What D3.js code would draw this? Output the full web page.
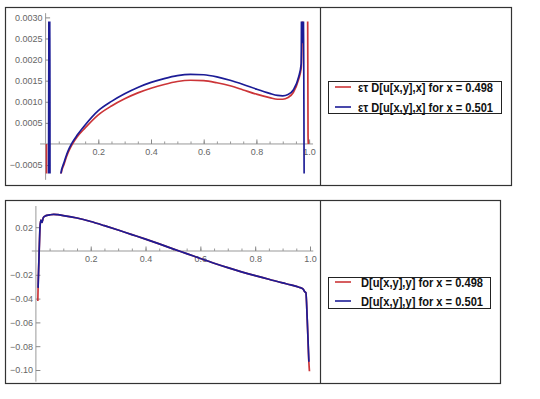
<!DOCTYPE html>
<html><head><meta charset="utf-8">
<script src="https://cdn.jsdelivr.net/npm/d3@7"></script>
<style>body{margin:0;background:#fff}svg{display:block}text{font-family:"Liberation Sans",Arial,sans-serif}</style>
</head><body><svg id="c" width="540" height="399"></svg>
<script>
// ---------- DATA ----------
// Top panel: eps*tau D[u[x,y],x]
const topX1 = [0.0035,0.004,0.011,0.012,0.013,0.014,0.015,0.016,0.017,0.05,0.058,0.07,0.08,0.09,0.1,0.12,0.15,0.2,0.25,0.3,0.35,0.4,0.45,0.5,0.55,0.6,0.65,0.7,0.75,0.8,0.85,0.88,0.9,0.92,0.94,0.96,0.97,0.98,0.994,0.996,0.997];
const topRed = [0.0,-0.003,-0.003,-0.003,-0.003,-0.003,-0.003,-0.003,-0.003,-0.003,-0.00073,-0.00048,-0.00029,-0.00014,-0.00002,0.00017,0.00038,0.00069,0.0009,0.00107,0.00121,0.00132,0.00141,0.00148,0.00151,0.0015,0.00145,0.00138,0.00128,0.00118,0.0011,0.00106,0.00106,0.0011,0.00122,0.00153,0.0018,0.004,0.004,0.0002,0.0];
const topX2 = [0.011,0.012,0.013,0.014,0.015,0.016,0.017,0.05,0.058,0.07,0.08,0.09,0.1,0.12,0.15,0.2,0.25,0.3,0.35,0.4,0.45,0.5,0.55,0.6,0.65,0.7,0.75,0.8,0.85,0.88,0.9,0.92,0.94,0.96,0.97,0.972,0.975,0.978,0.983,1.0];
const topBlue = [-0.003,0.004,-0.003,0.004,-0.003,0.004,-0.003,-0.003,-0.0007,-0.00044,-0.00025,-0.0001,0.00002,0.00021,0.00045,0.00079,0.00101,0.00119,0.00134,0.00146,0.00155,0.00162,0.00165,0.00164,0.00159,0.00151,0.00141,0.0013,0.0012,0.00115,0.00114,0.00117,0.00128,0.00158,0.0019,0.004,0.0024,0.004,-0.003,-0.003];
const topYTicks = [-0.0005,0.0005,0.001,0.0015,0.002,0.0025,0.003];
const topYLabels = ["\u22120.0005","0.0005","0.0010","0.0015","0.0020","0.0025","0.0030"];
const xTicks = [0.2,0.4,0.6,0.8,1.0];
const xLabels = ["0.2","0.4","0.6","0.8","1.0"];
const topLegend = ["\u03B5\u03C4 D[u[x,y],x] for x = 0.498","\u03B5\u03C4 D[u[x,y],x] for x = 0.501"];

// Bottom panel: D[u[x,y],y]
const botX = [0.007,0.008,0.012,0.015,0.018,0.022,0.027,0.035,0.05,0.065,0.08,0.1,0.15,0.2,0.25,0.3,0.35,0.4,0.45,0.5,0.55,0.6,0.65,0.7,0.75,0.8,0.85,0.9,0.93,0.96,0.975,0.98,0.985,0.99,0.996,0.998];
const botRed = [-0.042,-0.031,0.0,0.02,0.026,0.024,0.028,0.0295,0.0303,0.0308,0.0305,0.0298,0.0277,0.0248,0.0213,0.0176,0.0138,0.0100,0.0060,0.0018,-0.0022,-0.0063,-0.0103,-0.0140,-0.0175,-0.0207,-0.0237,-0.0268,-0.0285,-0.0305,-0.032,-0.034,-0.035,-0.058,-0.094,-0.101];
const botBlue = [null,-0.031,0.0,0.02,0.026,0.024,0.028,0.0295,0.0303,0.0308,0.0305,0.0298,0.0277,0.0248,0.0213,0.0176,0.0138,0.0100,0.0060,0.0018,-0.0022,-0.0063,-0.0103,-0.0140,-0.0175,-0.0207,-0.0237,-0.0268,-0.0285,-0.0305,-0.032,-0.034,-0.035,-0.058,-0.093,null];
const botYTicks = [0.02,-0.02,-0.04,-0.06,-0.08,-0.10];
const botYLabels = ["0.02","\u22120.02","\u22120.04","\u22120.06","\u22120.08","\u22120.10"];
const botLegend = ["D[u[x,y],y] for x = 0.498","D[u[x,y],y] for x = 0.501"];

const RED = "#cc3538", BLUE = "#1c1c96";

// ---------- DRAW ----------
const svg = d3.select("#c");

function panel(o){
  const g = svg.append("g");
  g.append("rect").attr("x",o.frame[0]+0.5).attr("y",o.frame[1]+0.5)
    .attr("width",o.frame[2]-o.frame[0]).attr("height",o.frame[3]-o.frame[1])
    .attr("fill","#fff").attr("stroke","#333").attr("stroke-width",1.2);
  g.append("line").attr("x1",o.div+0.5).attr("x2",o.div+0.5).attr("y1",o.frame[1]).attr("y2",o.frame[3])
    .attr("stroke","#333").attr("stroke-width",1.2);

  const x = d3.scaleLinear().domain([0,1]).range(o.xr);
  const y = d3.scaleLinear().domain(o.yd).range(o.yr);

  g.append("line").attr("x1",x(o.xAxisExt[0])).attr("x2",x(o.xAxisExt[1])).attr("y1",y(0)).attr("y2",y(0))
    .attr("stroke","#999").attr("stroke-width",1);
  g.append("line").attr("x1",x(0)).attr("x2",x(0)).attr("y1",y(o.yAxisExt[0])).attr("y2",y(o.yAxisExt[1]))
    .attr("stroke","#999").attr("stroke-width",1);

  const xMinor = d3.range(0,1.0001,0.05).filter(v=>v>0.001);
  const yMinor = d3.range(o.yAxisExt[1], o.yAxisExt[0], o.yMinorStep).map(v=>+v.toFixed(6));
  g.append("g").attr("transform",`translate(0,${y(0)})`)
    .call(d3.axisBottom(x).tickValues(xMinor).tickSizeInner(-2.5).tickSizeOuter(0).tickFormat(""))
    .call(a=>a.select(".domain").remove()).selectAll("line").attr("stroke","#999");
  g.append("g").attr("transform",`translate(${x(0)},0)`)
    .call(d3.axisLeft(y).tickValues(yMinor.filter(v=>Math.abs(v)>1e-9)).tickSizeInner(-2.5).tickSizeOuter(0).tickFormat(""))
    .call(a=>a.select(".domain").remove()).selectAll("line").attr("stroke","#999");
  const ax = g.append("g").attr("transform",`translate(0,${y(0)})`)
    .call(d3.axisBottom(x).tickValues(xTicks).tickSizeInner(-4.5).tickSizeOuter(0).tickPadding(5)
      .tickFormat((d,i)=>xLabels[i]))
    .call(a=>a.select(".domain").remove());
  ax.selectAll("line").attr("stroke","#888");
  ax.selectAll("text").attr("fill","#666").attr("font-size",9).attr("font-family","Liberation Sans, Arial, sans-serif");
  const ay = g.append("g").attr("transform",`translate(${x(0)},0)`)
    .call(d3.axisLeft(y).tickValues(o.yTicks).tickSizeInner(-4.5).tickSizeOuter(0).tickPadding(3)
      .tickFormat((d,i)=>o.yLabels[i]))
    .call(a=>a.select(".domain").remove());
  ay.selectAll("line").attr("stroke","#888");
  ay.selectAll("text").attr("fill","#666").attr("font-size",9).attr("font-family","Liberation Sans, Arial, sans-serif");

  const cid = "clip"+o.id;
  g.append("clipPath").attr("id",cid).append("rect")
    .attr("x",o.xr[0]-8).attr("width",o.xr[1]-o.xr[0]+16)
    .attr("y",y(o.yd[1])).attr("height",y(o.yd[0])-y(o.yd[1]));
  const line = d3.line().defined(d=>d[1]!=null).curve(d3.curveMonotoneX).x(d=>x(d[0])).y(d=>y(d[1]));
  o.series.forEach(s=>{
    g.append("path").attr("clip-path",`url(#${cid})`)
      .attr("d", line(s.xs.map((v,i)=>[v,s.ys[i]])))
      .attr("fill","none").attr("stroke",s.color).attr("stroke-width",s.w||1.7).attr("stroke-linejoin","round");
  });

  const L = o.legend;
  g.append("rect").attr("x",L.box[0]+0.5).attr("y",L.box[1]+0.5).attr("width",L.box[2]-L.box[0]).attr("height",L.box[3]-L.box[1])
    .attr("fill","#fff").attr("stroke","#222").attr("stroke-width",1);
  L.labels.forEach((t,i)=>{
    const cy = L.ys[i];
    g.append("line").attr("x1",335).attr("x2",351).attr("y1",cy).attr("y2",cy)
      .attr("stroke",[RED,BLUE][i]).attr("stroke-width",1.6);
    g.append("text").attr("x",L.tx).attr("y",cy).attr("dy","0.36em")
      .attr("font-size",12.5).attr("font-weight","bold").attr("fill","#111")
      .attr("font-family","Liberation Sans Narrow, Arial Narrow, Liberation Sans, sans-serif")
      .attr("textLength",L.tw).attr("lengthAdjust","spacingAndGlyphs")
      .text(t);
  });
}

panel({id:1, frame:[5,7,511,185], div:320,
  xr:[45.6,309.1], yd:[-0.0007,0.0029], yr:[173.5,21.6],
  xAxisExt:[-0.021,1.015], yAxisExt:[-0.00085,0.0031], yMinorStep:0.0001,
  yTicks:topYTicks, yLabels:topYLabels,
  series:[{xs:topX1, ys:topRed, color:RED},{xs:topX2, ys:topBlue, color:BLUE}],
  legend:{box:[328,81,501,113], ys:[87,107], tx:358, tw:135, labels:topLegend}
});
panel({id:2, frame:[5,200,500,383], div:320,
  xr:[35.9,310], yd:[-0.102,0.034], yr:[251+0.102/0.02*23.8, 251-0.034/0.02*23.8],
  xAxisExt:[-0.015,1.012], yAxisExt:[-0.1098,0.0378], yMinorStep:0.005,
  yTicks:botYTicks, yLabels:botYLabels,
  series:[{xs:botX, ys:botRed, color:RED},{xs:botX, ys:botBlue, color:BLUE}],
  legend:{box:[328,277,490,308], ys:[282,301], tx:361, tw:122, labels:botLegend}
});
</script></body></html>
